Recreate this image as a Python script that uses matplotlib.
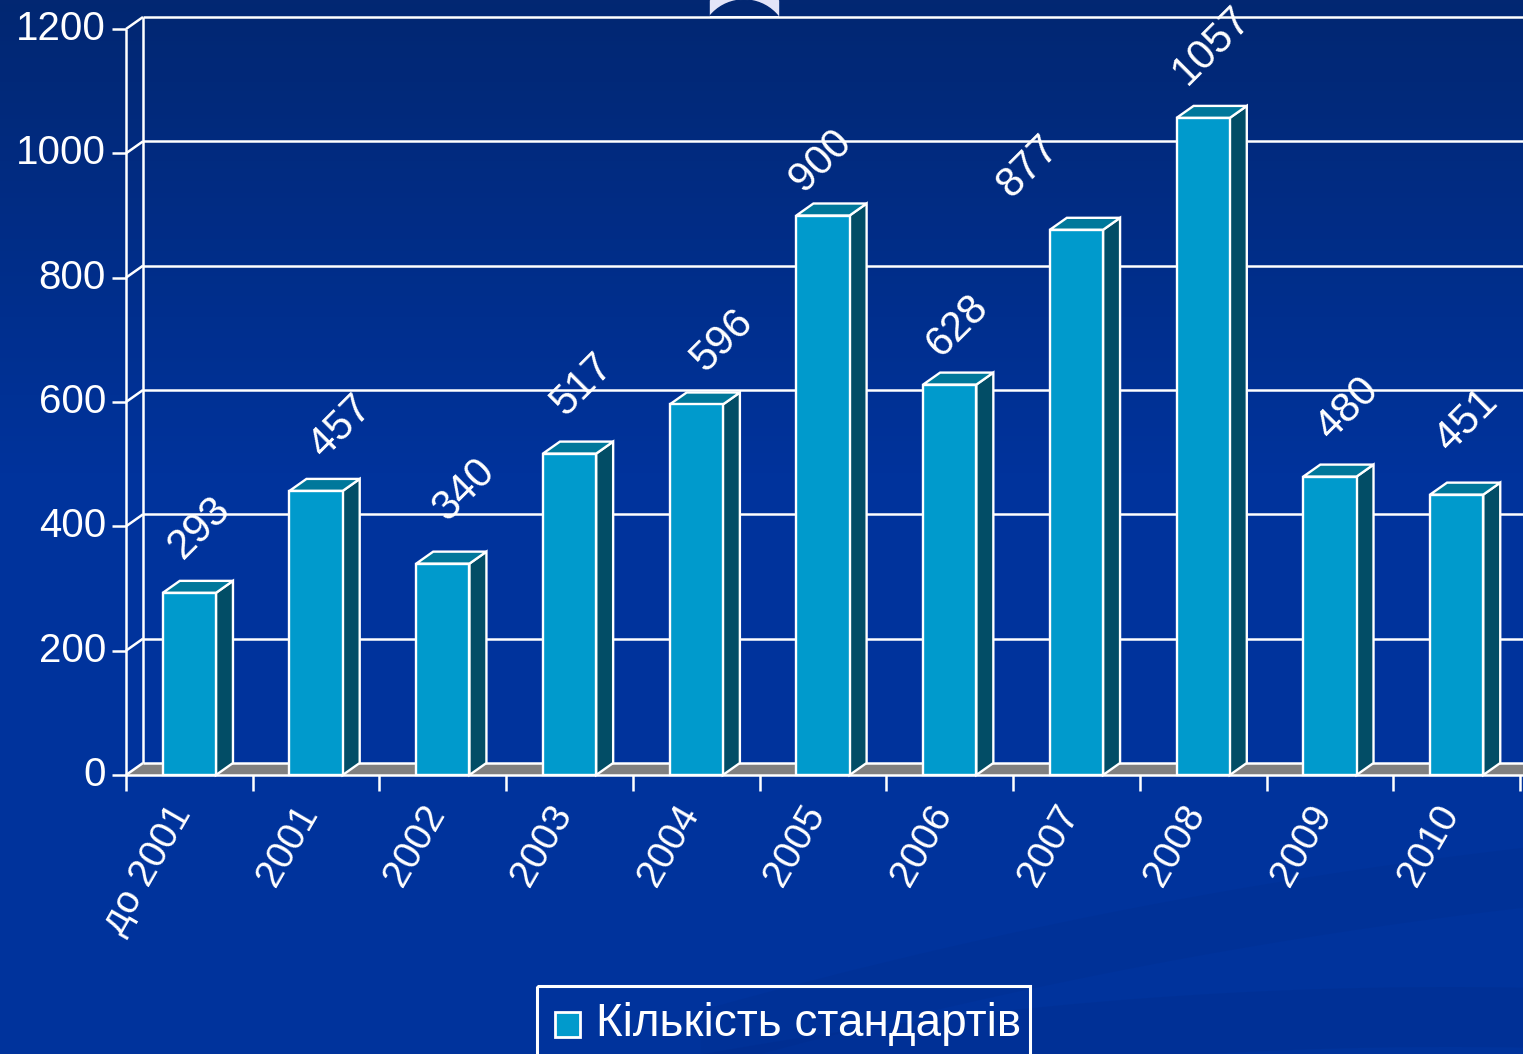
import matplotlib
matplotlib.use('Agg')
import matplotlib.pyplot as plt
import numpy as np
from matplotlib.patches import Polygon, Rectangle, Circle

plt.rcParams['font.family'] = ['Liberation Sans', 'DejaVu Sans']

# data
categories = ['до 2001', '2001', '2002', '2003', '2004', '2005',
              '2006', '2007', '2008', '2009', '2010']
values = [293, 457, 340, 517, 596, 900, 628, 877, 1057, 480, 451]
yticks = [0, 200, 400, 600, 800, 1000, 1200]
legend_label = 'Кількість стандартів'

# value labels were dragged by hand in the original, so nudge them (pixels)
label_dx = [10, 25, 21, 13, 26, -2, 8, -48, 9, 18, 10]
label_dy = [65, 64, 74, 69, 64, 55, 59, 63, 72, 68, 74]

W, H = 1523, 1054
fig = plt.figure(figsize=(W / 100, H / 100), dpi=100)

# background in pixel coords
bg = fig.add_axes([0, 0, 1, 1])
bg.set_xlim(0, W)
bg.set_ylim(H, 0)
bg.axis('off')
grad = np.linspace(0, 1, 256)
top = np.array([0x02, 0x27, 0x72]) / 255
mid = np.array([0x00, 0x33, 0x9c]) / 255
t = np.clip(grad / 0.45, 0, 1)[:, None]
cols = top * (1 - t) + mid * t
bg.imshow(np.repeat(cols[:, None, :], 2, axis=1), extent=[0, W, H, 0],
          aspect='auto', zorder=0)
# faint swooshes bottom right
xs = np.linspace(700, W, 200)
for a, b, c, alpha in [(1054, -0.18, 0.00012, 0.10), (1010, -0.28, 0.0001, 0.08)]:
    ys = a + b * (xs - 700) + c * (xs - 700) ** 2
    bg.fill_between(xs, ys, ys + 60, color='#001f66', alpha=alpha, lw=0, zorder=1)
# decorative arc at top
clip = Rectangle((700, 0), 90, 16, transform=bg.transData)
bg.add_patch(Rectangle((710, 0), 68, 16, color='#e4e4f8', zorder=1))
arc = bg.add_patch(Circle((744, 44), 44, color=top, zorder=1.5))
arc.set_clip_path(clip)

# chart axes = front plane
x0, x1 = 126, 1520
y0, y1 = 775, 29
ax = fig.add_axes([x0 / W, (H - y0) / H, (x1 - x0) / W, (y0 - y1) / H])
ax.set_xlim(-0.5, len(categories) - 0.5)
ax.set_ylim(0, 1200)
ax.axis('off')

pxx = (x1 - x0) / len(categories)
pxy = (y0 - y1) / 1200
DX = 17 / pxx
DY = 12 / pxy
xl = -0.5
xr = len(categories) - 0.5 + 0.2
lw = 1.8
white = 'white'

def line(xx, yy, **kw):
    ax.plot(xx, yy, color=white, lw=kw.pop('lw', lw), clip_on=False,
            solid_capstyle='butt', **kw)

# floor
ax.add_patch(Polygon([(xl, 0), (xl + DX, DY), (xr, DY), (xr, 0)],
                     closed=True, fc='#808080', ec='none', clip_on=False, zorder=1))
line([xl + DX, xr], [DY, DY], zorder=1.5)

# back wall gridlines and left walls
for v in yticks[1:]:
    line([xl + DX, xr], [v + DY, v + DY], zorder=1.5)
for v in yticks:
    line([xl, xl + DX], [v, v + DY], zorder=1.5)
line([xl + DX, xl + DX], [DY, 1200 + DY], zorder=1.5)
line([xl, xl], [0, 1200], zorder=5)

# y ticks and labels
for v in yticks:
    line([xl - 14 / pxx, xl], [v, v], zorder=5)
    ax.text(xl - 20 / pxx, v, str(v), color=white, fontsize=29,
            ha='right', va='center')

# bars
bw = 0.42
for i, v in enumerate(values):
    l, r = i - bw / 2, i + bw / 2
    ax.add_patch(Polygon([(r, 0), (r + DX, DY), (r + DX, v + DY), (r, v)],
                         closed=True, fc='#024d66', ec=white, lw=1.7,
                         clip_on=False, zorder=3))
    ax.add_patch(Polygon([(l, v), (l + DX, v + DY), (r + DX, v + DY), (r, v)],
                         closed=True, fc='#00789b', ec=white, lw=1.7,
                         clip_on=False, zorder=3))
    ax.add_patch(Rectangle((l, 0), bw, v, fc='#009acc', ec=white, lw=1.7,
                           clip_on=False, zorder=4))
    ax.text(i + label_dx[i] / pxx, v + label_dy[i] / pxy, str(v), color=white,
            fontsize=30, rotation=45, rotation_mode='anchor',
            ha='center', va='center', zorder=6)

# floor front edge and x axis
line([xl, xr], [0, 0], zorder=5)
for k in range(len(categories) + 1):
    xk = xl + k
    line([xk, xk], [0, -16 / pxy], zorder=5)
for i, c in enumerate(categories):
    ax.text(i - 6 / pxx, -33 / pxy, c, color=white, fontsize=28,
            rotation=60, rotation_mode='anchor', ha='right', va='center')

# legend box
bg.add_patch(Rectangle((537, 986), 493, 80, fill=False, ec=white, lw=2.2, zorder=5))
bg.add_patch(Rectangle((555, 1012), 25, 25, fc='#009acc', ec=white, lw=2, zorder=5))
bg.text(596, 1024, legend_label, color=white, fontsize=33, ha='left',
        va='center', zorder=5)

fig.savefig('out.png', dpi=100)
